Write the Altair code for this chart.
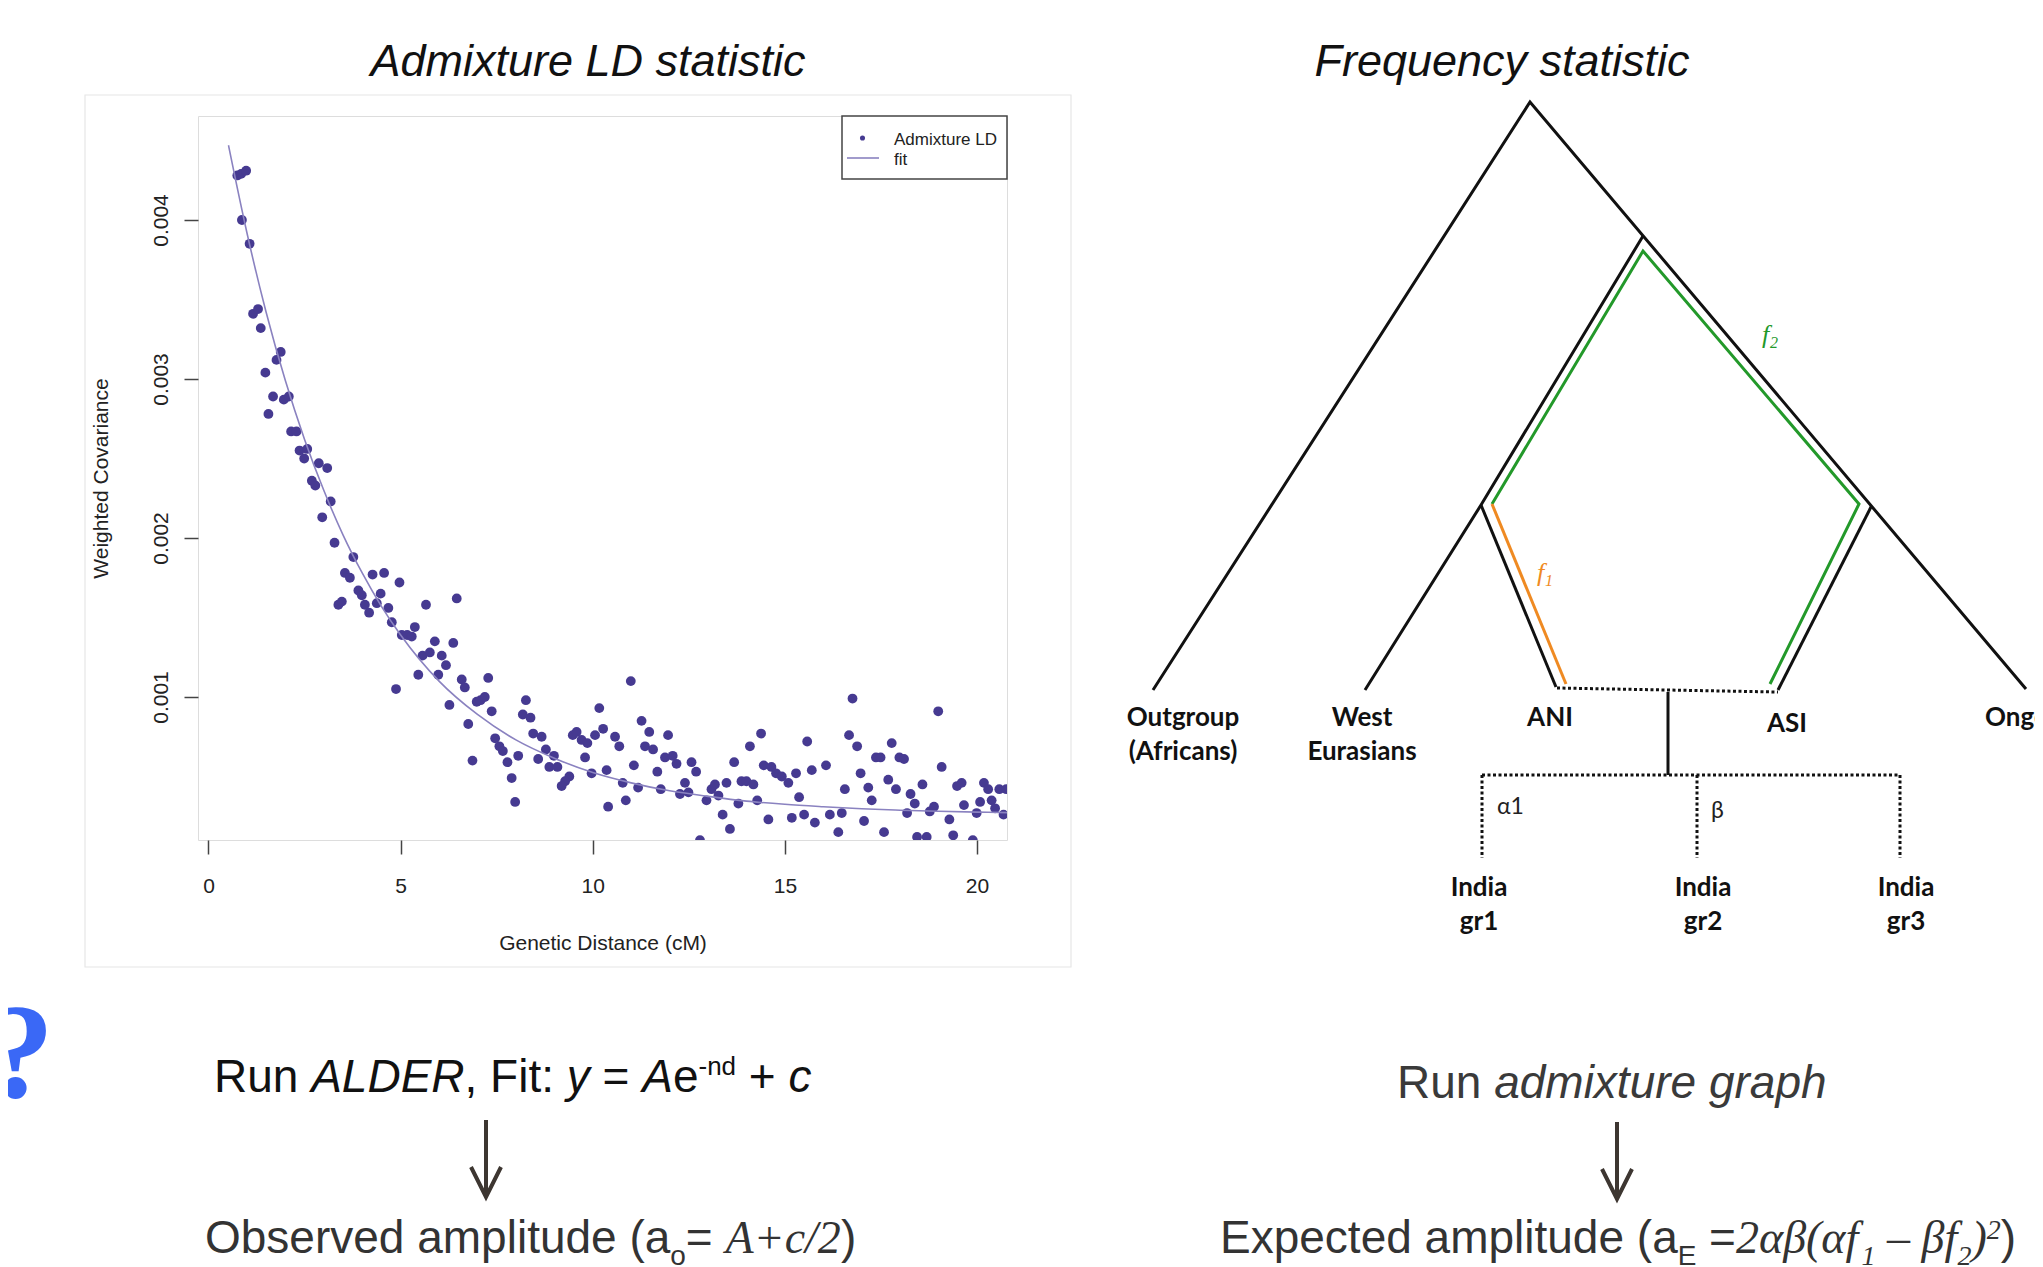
import altair as alt
import pandas as pd

# ------------------------------------------------------------------ data
# Admixture LD curve: genetic distance (cM) and weighted covariance (x 1e-3)
ld_cm_a = [0.75, 0.85, 0.98, 0.87, 1.07, 1.16, 1.29, 1.36, 1.88, 1.77, 1.48, 1.68, 1.96, 2.09,
           1.56, 2.15, 2.29, 2.37, 2.49, 2.57, 2.87, 3.09, 2.69, 2.78, 3.18, 2.96, 3.28, 3.77]
ld_cov_a = [4.28, 4.29, 4.31, 4.00, 3.85, 3.41, 3.44, 3.32, 3.17, 3.12, 3.04, 2.89, 2.87, 2.89,
            2.78, 2.67, 2.67, 2.55, 2.50, 2.56, 2.47, 2.44, 2.36, 2.33, 2.23, 2.13, 1.97, 1.88]
ld_cm_b = [3.55, 3.68, 4.27, 4.57, 4.97, 3.38, 3.47, 3.90, 3.99, 4.07, 4.18, 4.38, 4.48, 4.68, 4.77,
           5.03, 5.17, 5.29, 5.37, 5.66, 6.46, 5.57, 5.76, 5.89, 6.07, 6.18, 6.37, 5.46, 5.98, 4.88,
           6.59, 6.67, 7.28, 6.98, 7.08, 7.19, 6.27, 7.37, 6.76, 8.26, 8.18, 8.38, 7.46, 7.57, 7.66,
           7.78, 8.06, 7.89, 7.98, 6.87, 8.45, 8.67, 8.78, 8.99, 8.58, 8.87, 9.08, 9.39, 9.28, 9.19,
           9.48, 9.58, 9.71, 9.86, 9.80, 10.06, 10.17, 10.27, 9.97, 10.36, 10.40]
ld_cov_b = [1.78, 1.75, 1.77, 1.78, 1.72, 1.58, 1.60, 1.67, 1.64, 1.58, 1.53, 1.59, 1.65, 1.56, 1.47,
            1.39, 1.39, 1.38, 1.44, 1.58, 1.62, 1.26, 1.28, 1.35, 1.26, 1.20, 1.34, 1.14, 1.14, 1.05,
            1.11, 1.06, 1.12, 0.97, 0.98, 1.00, 0.95, 0.91, 0.83, 0.98, 0.89, 0.87, 0.74, 0.69, 0.66,
            0.59, 0.63, 0.49, 0.34, 0.60, 0.77, 0.75, 0.67, 0.63, 0.61, 0.56, 0.56, 0.50, 0.47, 0.44,
            0.76, 0.78, 0.73, 0.71, 0.62, 0.76, 0.93, 0.80, 0.52, 0.54, 0.31]
ld_cm_c = [10.99, 10.58, 10.69, 11.27, 11.47, 11.96, 11.36, 11.57, 11.88, 12.08, 12.18, 12.57, 12.69,
           11.07, 11.68, 10.78, 11.18, 11.77, 10.86, 12.27, 12.40, 12.49, 12.96, 13.09, 13.18, 13.27,
           13.48, 13.38, 13.57, 12.79, 13.68, 13.79, 13.87, 14.00, 14.18, 14.09, 14.38, 14.28, 14.45,
           14.65, 14.77, 14.92, 15.09, 15.29, 15.37, 15.58, 15.70, 14.57, 15.18, 15.50, 15.78]
ld_cov_c = [1.10, 0.75, 0.69, 0.85, 0.78, 0.76, 0.69, 0.67, 0.62, 0.63, 0.58, 0.59, 0.53,
            0.57, 0.53, 0.46, 0.43, 0.42, 0.35, 0.39, 0.46, 0.40, 0.35, 0.42, 0.45, 0.38,
            0.46, 0.26, 0.17, 0.10, 0.59, 0.33, 0.47, 0.47, 0.45, 0.69, 0.77, 0.35, 0.57,
            0.56, 0.52, 0.50, 0.46, 0.52, 0.37, 0.72, 0.54, 0.23, 0.24, 0.26, 0.21]
ld_cm_d = [16.07, 16.17, 16.39, 16.48, 16.56, 16.76, 16.67, 16.88, 16.97, 17.06, 17.17, 17.26, 17.37,
           17.49, 17.58, 17.69, 17.78, 17.89, 17.98, 18.10, 18.18, 18.27, 18.38, 18.58, 18.44, 18.69,
           18.77, 18.88, 18.99, 19.08, 19.28, 19.38, 19.48, 19.60, 19.66, 19.89, 19.99, 20.08, 20.18,
           20.29, 20.38, 20.47, 20.58, 20.69, 20.76]
ld_cov_d = [0.57, 0.26, 0.15, 0.27, 0.42, 0.99, 0.76, 0.69, 0.52, 0.22, 0.43, 0.35, 0.62,
            0.62, 0.15, 0.48, 0.71, 0.42, 0.62, 0.61, 0.27, 0.39, 0.33, 0.45, 0.12, 0.12,
            0.28, 0.31, 0.91, 0.56, 0.23, 0.13, 0.44, 0.46, 0.32, 0.10, 0.27, 0.34, 0.46,
            0.42, 0.35, 0.30, 0.42, 0.26, 0.42]

# fitted curve (x 1e-3)
fit_cm = [0.52, 1, 1.5, 2, 2.5, 3, 3.5, 4, 4.5, 5, 6, 7, 8, 9, 10, 11, 12, 13, 14, 15, 16, 17, 18, 19, 20, 20.8]
fit_cov = [4.47, 3.92, 3.42, 2.99, 2.62, 2.30, 2.02, 1.78, 1.57, 1.39, 1.10, 0.89, 0.73, 0.615, 0.525,
           0.46, 0.41, 0.375, 0.345, 0.325, 0.31, 0.297, 0.288, 0.281, 0.276, 0.273]

x_ticks = [0, 5, 10, 15, 20]
y_ticks = [0.001, 0.002, 0.003, 0.004]

# admixture graph (diagram coordinates, page pixels)
tree_black = {
    "outer": [(1153, 690), (1530, 102), (2026, 689)],
    "west": [(1365, 690), (1481, 505), (1643, 236)],
    "ani": [(1481, 505), (1556, 687)],
    "asi": [(1871.5, 506), (1778, 690)],
    "admix": [(1668, 692), (1668, 775)],
}
tree_green = {"f2": [(1492, 504), (1643, 251), (1859, 504), (1770, 684)]}
tree_orange = {"f1": [(1492, 504), (1566, 684)]}
tree_dotted = {
    "mix": [(1557, 688), (1778, 692)],
    "bar": [(1482, 775), (1900, 775)],
    "g1": [(1482, 775), (1482, 858)],
    "g2": [(1697, 775), (1697, 858)],
    "g3": [(1900, 775), (1900, 858)],
}
leaf_text = ["Outgroup", "(Africans)", "West", "Eurasians", "ANI", "ASI",
             "India", "gr1", "India", "gr2", "India", "gr3"]
leaf_x = [1183, 1183, 1362, 1362, 1550, 1787, 1479, 1479, 1703, 1703, 1906, 1906]
leaf_y = [726, 760, 726, 760, 726, 732, 896, 930, 896, 930, 896, 930]

# ------------------------------------------------------------------ helpers
SANS = "Liberation Sans"
SERIF = "Liberation Serif"
LABEL = "Lato"
PT = "#463a91"
FITC = "#8a82c0"

PX = alt.Scale(domain=[198, 1007], nice=False, zero=False)
PY = alt.Scale(domain=[116, 840], nice=False, zero=False, reverse=True)
XS = alt.Scale(domain=[-0.273, 20.78], nice=False, zero=False)
YS = alt.Scale(domain=[0.0001006, 0.004654], nice=False, zero=False)


def pxe(f="px"):
    return alt.X(f"{f}:Q", scale=PX, axis=None)


def pye(f="py"):
    return alt.Y(f"{f}:Q", scale=PY, axis=None)


def poly_df(polys):
    rows = []
    for name, pts in polys.items():
        for i, (x, y) in enumerate(pts):
            rows.append(dict(path=name, order=i, px=x, py=y))
    return pd.DataFrame(rows)


def lines(polys, **kw):
    return alt.Chart(poly_df(polys)).mark_line(strokeJoin="miter", **kw).encode(
        x=pxe(), y=pye(), detail="path:N", order="order:Q")


SANS_W = {' ': 278, '(': 333, ')': 333, '+': 584, ',': 278, '-': 333, '.': 278, '/': 278, ':': 278,
          '=': 584, 'A': 667, 'D': 722, 'E': 667, 'F': 611, 'L': 556, 'O': 778, 'R': 722,
          'a': 556, 'b': 556, 'c': 500, 'd': 556, 'e': 556, 'g': 556, 'h': 556, 'i': 222, 'l': 222,
          'm': 833, 'n': 556, 'o': 556, 'p': 556, 'r': 333, 's': 500, 't': 278, 'u': 556, 'v': 500,
          'x': 500, 'y': 500}
SERIF_W = {' ': 250, 'A': 611, '+': 675, 'c': 444, '/': 278, '1': 500, '2': 500, '(': 333, ')': 333,
           '–': 500, 'α': 560, 'β': 500, 'f': 278}


def tw(s, fam, size):
    t = SERIF_W if fam == SERIF else SANS_W
    return sum(t.get(ch, 556) for ch in s) * size / 1000.0


def lay(x0, y0, segs):
    rows, x = [], x0
    for text, fam, style, size, dy, color in segs:
        lead = len(text) - len(text.lstrip(" "))
        rows.append(dict(text=text.strip(), fam=fam, style=style, size=size,
                         px=x + lead * tw(" ", fam, size), py=y0 + dy, color=color))
        x += tw(text, fam, size)
    return rows


K1, K2, K3 = "#111111", "#333333", "#3a3a3a"
rows = []
rows += lay(214, 1092, [("Run ", SANS, "normal", 46, 0, K1), ("ALDER", SANS, "italic", 46, 0, K1),
                        (", Fit: ", SANS, "normal", 46, 0, K1), ("y", SANS, "italic", 46, 0, K1),
                        (" = ", SANS, "normal", 46, 0, K1), ("A", SANS, "italic", 46, 0, K1),
                        ("e", SANS, "normal", 46, 0, K1), ("-nd", SANS, "normal", 26, -17, K1),
                        (" + ", SANS, "normal", 46, 0, K1), ("c", SANS, "italic", 46, 0, K1)])
rows += lay(205, 1253, [("Observed amplitude (a", SANS, "normal", 46, 0, K2),
                        ("o", SANS, "normal", 28, 12, K2), ("= ", SANS, "normal", 46, 0, K2),
                        ("A+c/2", SERIF, "italic", 46, 0, K2), (")", SANS, "normal", 46, 0, K2)])
rows += lay(1397, 1098, [("Run ", SANS, "normal", 46, 0, K3), ("admixture graph", SANS, "italic", 46, 0, K3)])
rows += lay(1220, 1253, [("Expected amplitude (a", SANS, "normal", 46, 0, K2),
                         ("E", SANS, "normal", 28, 12, K2), (" =", SANS, "normal", 46, 0, K2),
                         ("2αβ(αf", SERIF, "italic", 46, 0, K2), ("1", SERIF, "italic", 28, 12, K2),
                         (" – βf", SERIF, "italic", 46, 0, K2), ("2", SERIF, "italic", 28, 12, K2),
                         (")", SERIF, "italic", 46, 0, K2), ("2", SERIF, "italic", 28, -14, K2),
                         (")", SANS, "normal", 46, 0, K2)])
rows += [dict(text="f", fam=SERIF, style="italic", size=26, px=1762, py=343, color="#23992a"),
         dict(text="2", fam=SERIF, style="italic", size=16, px=1770, py=348, color="#23992a"),
         dict(text="f", fam=SERIF, style="italic", size=26, px=1537, py=581, color="#ef8a22"),
         dict(text="1", fam=SERIF, style="italic", size=16, px=1545, py=586, color="#ef8a22")]
seg_df = pd.DataFrame(rows)


def text_layer(df, font, style="normal", weight="normal", align="left", baseline="alphabetic", **kw):
    return alt.Chart(df).mark_text(font=font, fontStyle=style, fontWeight=weight,
                                   align=align, baseline=baseline, **kw).encode(
        x=pxe(), y=pye(), text="text:N",
        size=alt.Size("size:Q", scale=None), color=alt.Color("color:N", scale=None))


layers = []

# faint frame of the R figure
layers.append(alt.Chart(pd.DataFrame({"px": [85], "px2": [1071], "py": [95], "py2": [967]}))
              .mark_rect(fill="transparent", stroke="#e6e6e6", strokeWidth=1.2)
              .encode(x=pxe(), x2="px2:Q", y=pye(), y2="py2:Q"))

# scatter
pts = pd.DataFrame({"cm": ld_cm_a + ld_cm_b + ld_cm_c + ld_cm_d,
                    "cov": [v * 1e-3 for v in ld_cov_a + ld_cov_b + ld_cov_c + ld_cov_d]})
axis_common = dict(grid=False, domain=False, tickSize=14, tickColor="#444", tickWidth=1.5,
                   labelFontSize=21, labelFont=SANS, labelColor="#222", labelOverlap=False,
                   labelFlush=False, titleFontSize=21, titleFont=SANS, titleFontWeight="normal",
                   titleColor="#222", titleBaseline="alphabetic", titleAlign="center")
layers.append(alt.Chart(pts).mark_circle(size=96, color=PT, opacity=1, clip=True).encode(
    x=alt.X("cm:Q", scale=XS, axis=alt.Axis(values=x_ticks, title="Genetic Distance (cM)",
                                            labelPadding=21, titleX=404.5, titleY=109, **axis_common)),
    y=alt.Y("cov:Q", scale=YS, axis=alt.Axis(values=y_ticks, format=".3f", title="Weighted Covariance",
                                             labelAngle=270, labelAlign="center", labelBaseline="alphabetic",
                                             labelPadding=17, titleAngle=270, titleX=-91, titleY=362,
                                             **axis_common))))
fit_df = pd.DataFrame({"cm": fit_cm, "cov": [v * 1e-3 for v in fit_cov]})
layers.append(alt.Chart(fit_df).mark_line(color=FITC, strokeWidth=1.6, interpolate="monotone", clip=True)
              .encode(x=alt.X("cm:Q", scale=XS, axis=None), y=alt.Y("cov:Q", scale=YS, axis=None)))

# legend of the R figure
layers.append(alt.Chart(pd.DataFrame({"px": [842], "px2": [1007], "py": [116], "py2": [179]}))
              .mark_rect(fill="white", stroke="#444", strokeWidth=1.5)
              .encode(x=pxe(), x2="px2:Q", y=pye(), y2="py2:Q"))
layers.append(alt.Chart(pd.DataFrame({"px": [862.5], "py": [138]}))
              .mark_circle(size=26, color=PT, opacity=1).encode(x=pxe(), y=pye()))
layers.append(alt.Chart(pd.DataFrame({"px": [847], "px2": [879], "py": [158]}))
              .mark_rule(color=FITC, strokeWidth=1.6).encode(x=pxe(), x2="px2:Q", y=pye()))
leg_df = pd.DataFrame({"text": ["Admixture LD", "fit"], "px": [894, 894], "py": [145, 165],
                       "size": [17, 17], "color": ["#222", "#222"]})
layers.append(text_layer(leg_df, SANS))

# admixture graph
layers.append(lines(tree_black, color="#111", strokeWidth=3))
layers.append(lines(tree_green, color="#23992a", strokeWidth=3))
layers.append(lines(tree_orange, color="#ef8a22", strokeWidth=3))
layers.append(lines(tree_dotted, color="#111", strokeWidth=3, strokeDash=[3, 2.5]))
leaf_df = pd.DataFrame({"text": leaf_text, "px": leaf_x, "py": leaf_y,
                        "size": [26] * len(leaf_text), "color": ["#111"] * len(leaf_text)})
layers.append(text_layer(leaf_df, LABEL, weight="bold", align="center"))
layers.append(text_layer(pd.DataFrame({"text": ["Onge"], "px": [1985], "py": [726], "size": [26],
                                       "color": ["#111"]}), LABEL, weight="bold"))
layers.append(text_layer(pd.DataFrame({"text": ["α1", "β"], "px": [1497, 1711], "py": [814, 818],
                                       "size": [23, 23], "color": ["#222", "#222"]}), LABEL))

# panel titles
title_df = pd.DataFrame({"text": ["Admixture LD statistic", "Frequency statistic"], "px": [588, 1502],
                         "py": [76, 76], "size": [45, 45], "color": ["#111", "#111"]})
layers.append(text_layer(title_df, SANS, style="italic", align="center"))

# formulas
for (fam, style), g in seg_df.groupby(["fam", "style"]):
    layers.append(text_layer(g, fam, style=style))

# arrows
arrows = {"s1": [(486, 1120), (486, 1194)], "h1": [(471, 1167), (486, 1197), (501, 1167)],
          "s2": [(1617, 1122), (1617, 1196)], "h2": [(1602, 1169), (1617, 1199), (1632, 1169)]}
layers.append(lines(arrows, color="#3d3631", strokeWidth=4))

# blue question mark
layers.append(text_layer(pd.DataFrame({"text": ["?"], "px": [-14], "py": [1097], "size": [136],
                                       "color": ["#3a68f6"]}), SERIF, weight="bold"))

chart = alt.layer(*layers).resolve_scale(x="independent", y="independent").properties(
    width=809, height=724,
    padding={"left": 190, "top": 108, "right": 1028, "bottom": 427},
    autosize=alt.AutoSizeParams(type="none"),
).configure_view(stroke="#444", strokeWidth=1.6).configure(background="white")

chart.save("out.html", embed_options={"renderer": "svg", "actions": False})
